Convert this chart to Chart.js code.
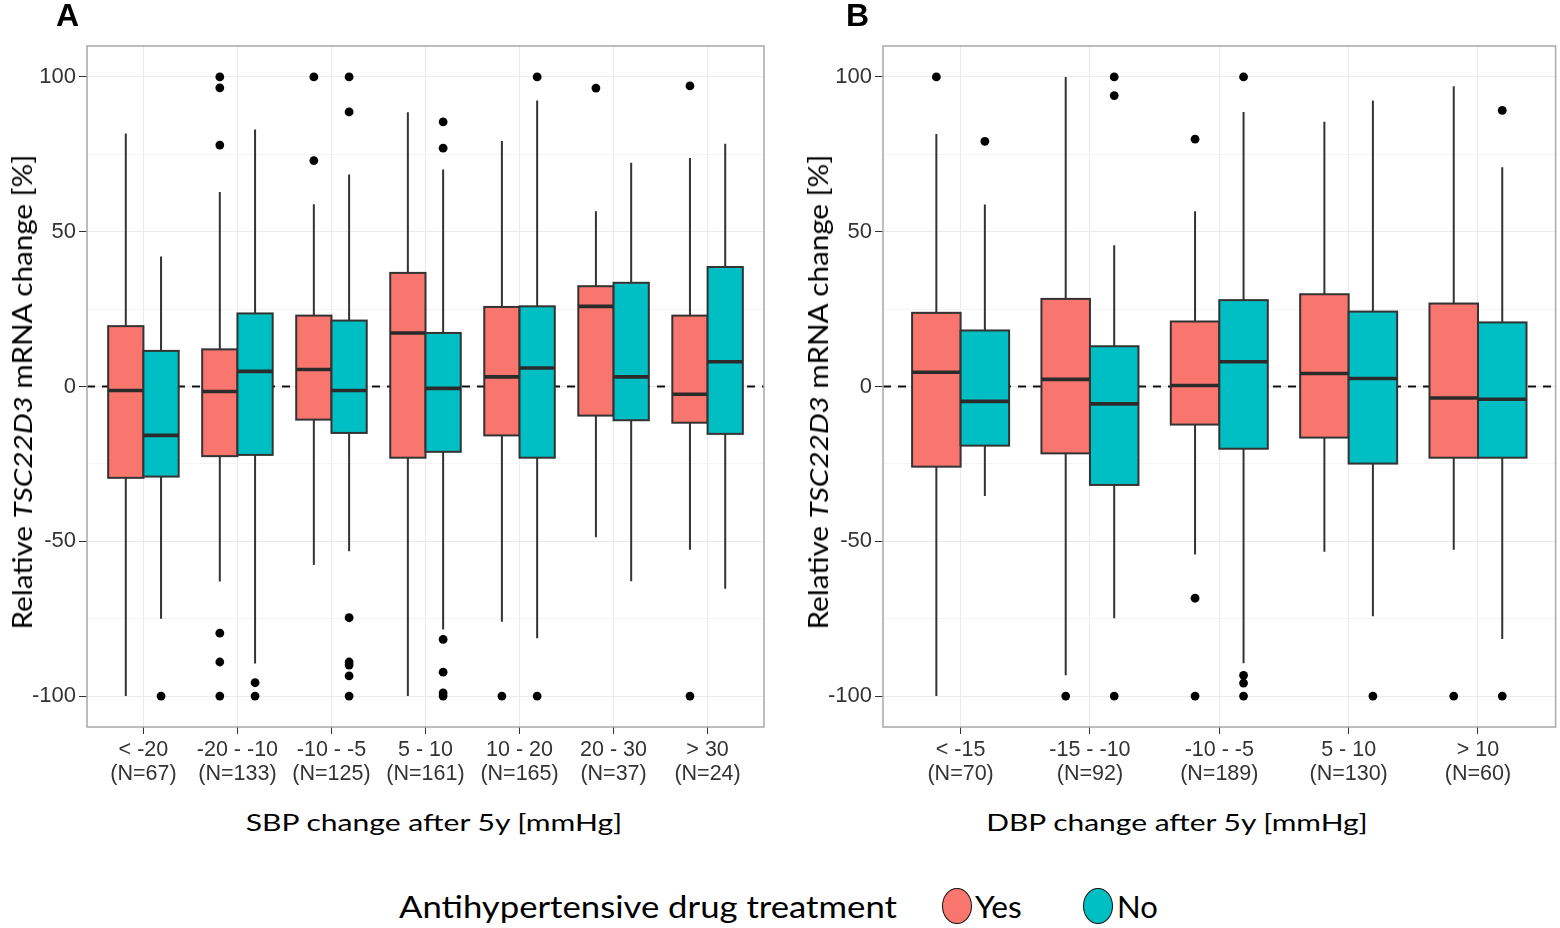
<!DOCTYPE html>
<html>
<head>
<meta charset="utf-8">
<title>TSC22D3 change by blood pressure change</title>
<script src="https://cdn.jsdelivr.net/npm/chart.js@4.4.1/dist/chart.umd.min.js"></script>
<style>
  body { margin: 0; background: #fff; width: 1560px; height: 928px; position: relative; overflow: hidden; font-family: Lato, "Open Sans", sans-serif; color: #000; }
  canvas { position: absolute; top: 0; }
  #chartA { left: 0; }
  #chartB { left: 790px; }
  .tag { position: absolute; top: -3px; font: bold 32px "Liberation Sans", Arial, sans-serif; }
  .lbl { position: absolute; white-space: nowrap; line-height: 1; }
  .ytitle { font-size: 26px; }
  .xtitle { font-size: 24px; }
  .legend { position: absolute; top: 888px; height: 36px; font-size: 31px; line-height: 36px; white-space: nowrap; }
  .dot { position: absolute; top: 888px; width: 28px; height: 34px; border: 1.5px solid #111; border-radius: 50%; }
</style>
</head>
<body>
<canvas id="chartA" width="780" height="800"></canvas>
<canvas id="chartB" width="770" height="800"></canvas>

<div class="tag" style="left:56px">A</div>
<div class="tag" style="left:846px">B</div>

<div class="lbl ytitle" data-w="475" data-cx="22" data-cy="392" data-rot="1">Relative <i>TSC22D3</i> mRNA change [%]</div>
<div class="lbl ytitle" data-w="475" data-cx="818" data-cy="392" data-rot="1">Relative <i>TSC22D3</i> mRNA change [%]</div>
<div class="lbl xtitle" data-w="376" data-cx="434" data-cy="822">SBP change after 5y [mmHg]</div>
<div class="lbl xtitle" data-w="382" data-cx="1177" data-cy="822">DBP change after 5y [mmHg]</div>

<div class="lbl legend" data-w="498" data-left="399">Antihypertensive drug treatment</div>
<div class="dot" style="left:942px; background:#F8766D"></div>
<div class="lbl legend" data-w="47" data-left="975">Yes</div>
<div class="dot" style="left:1083px; background:#00BFC4"></div>
<div class="lbl legend" data-w="41" data-left="1117">No</div>

<script>
// groups and counts
const sbpGroups = ['< -20', '-20 - -10', '-10 - -5', '5 - 10', '10 - 20', '20 - 30', '> 30'];
const sbpN = [67, 133, 125, 161, 165, 37, 24];
const dbpGroups = ['< -15', '-15 - -10', '-10 - -5', '5 - 10', '> 10'];
const dbpN = [70, 92, 189, 130, 60];

// box stats per group: [lower whisker, Q1, median, Q3, upper whisker]
const sbpYesBox = [
  [-100, -29.5, -1.3, 19.5, 81.7],
  [-63, -22.5, -1.6, 12, 62.8],
  [-57.7, -10.7, 5.5, 22.9, 58.9],
  [-100, -23, 17.3, 36.7, 88.6],
  [-76, -15.8, 3.1, 25.7, 79.3],
  [-48.7, -9.4, 25.9, 32.4, 56.6],
  [-52.7, -11.7, -2.5, 22.9, 73.8]
];
const sbpNoBox = [
  [-75, -29.1, -15.8, 11.5, 42],
  [-89.5, -22.1, 4.9, 23.6, 83],
  [-53.2, -15, -1.3, 21.3, 68.5],
  [-78.5, -21.1, -0.6, 17.3, 70.1],
  [-81.3, -23, 6, 25.9, 92.4],
  [-62.9, -10.9, 3.1, 33.5, 72.3],
  [-65.3, -15.3, 8, 38.6, 78.4]
];
const dbpYesBox = [
  [-100, -25.9, 4.6, 23.8, 81.6],
  [-93.3, -21.6, 2.3, 28.3, 100],
  [-54.3, -12.3, 0.3, 21, 56.6],
  [-53.4, -16.5, 4.2, 29.8, 85.5],
  [-52.7, -23, -3.7, 26.8, 97]
];
const dbpNoBox = [
  [-35.4, -19.1, -4.8, 18.1, 58.8],
  [-74.9, -31.8, -5.6, 13, 45.6],
  [-89.4, -20.1, 8, 27.9, 88.7],
  [-74.2, -24.9, 2.6, 24.2, 92.4],
  [-81.6, -23, -4.1, 20.7, 70.8]
];

// outliers per group
const sbpYesOut = [[], [100, 96.5, 78, -79.7, -89, -100], [100, 73], [], [-100], [96.4], [97.1, -100]];
const sbpNoOut = [[-100], [-95.7, -100], [100, 88.7, -74.7, -89, -90, -93.5, -100], [85.5, 77, -81.7, -92.3, -99, -100], [100, -100], [], []];
const dbpYesOut = [[100], [-100], [79.9, -68.4, -100], [], [-100]];
const dbpNoOut = [[79.2], [100, 94, -100], [100, -93.3, -95.8, -100], [-100], [89.2, -100]];

const yesColor = '#F8766D';
const noColor = '#00BFC4';
const boxW = 0.375;   // each box is half of the 0.75 dodge width

function outlierPoints(out, shift) {
  const pts = [];
  out.forEach((vals, i) => vals.forEach(v => pts.push({ x: i + 1 + shift, y: v })));
  return pts;
}

// whiskers, boxes, medians and the dashed zero line, drawn under the outlier points
function boxPlugin(series) {
  return {
    id: 'boxes',
    beforeDatasetsDraw(chart) {
      const { ctx, chartArea, scales: { x, y } } = chart;
      ctx.save();
      const y0 = y.getPixelForValue(0);
      ctx.strokeStyle = '#111';
      ctx.lineWidth = 2;
      ctx.setLineDash([8, 7]);
      ctx.beginPath();
      ctx.moveTo(chartArea.left, y0);
      ctx.lineTo(chartArea.right, y0);
      ctx.stroke();
      ctx.setLineDash([]);

      series.forEach(s => {
        s.stats.forEach((st, i) => {
          const c = i + 1 + s.shift;
          const xl = x.getPixelForValue(c - boxW / 2);
          const xr = x.getPixelForValue(c + boxW / 2);
          const xm = x.getPixelForValue(c);
          const [lo, q1, med, q3, hi] = st.map(v => y.getPixelForValue(v));
          ctx.strokeStyle = '#333';
          ctx.lineWidth = 2;
          ctx.beginPath();
          ctx.moveTo(xm, hi); ctx.lineTo(xm, q3);
          ctx.moveTo(xm, q1); ctx.lineTo(xm, lo);
          ctx.stroke();
          ctx.fillStyle = s.color;
          ctx.fillRect(xl, q3, xr - xl, q1 - q3);
          ctx.strokeRect(xl, q3, xr - xl, q1 - q3);
          ctx.strokeStyle = '#2b2b2b';
          ctx.lineWidth = 3.6;
          ctx.beginPath();
          ctx.moveTo(xl, med); ctx.lineTo(xr, med);
          ctx.stroke();
        });
      });
      ctx.restore();
    },
    afterDraw(chart) {
      const { ctx, chartArea: a } = chart;
      ctx.save();
      ctx.strokeStyle = '#a8a8a8';
      ctx.lineWidth = 1.5;
      ctx.strokeRect(a.left, a.top, a.right - a.left, a.bottom - a.top);
      ctx.restore();
    }
  };
}

function makeChart(id, groups, counts, yesBox, noBox, yesOut, noOut, axisW, padRight) {
  const n = groups.length;
  const yTicks = [-100, -75, -50, -25, 0, 25, 50, 75, 100];
  return new Chart(document.getElementById(id), {
    type: 'scatter',
    data: {
      datasets: [
        { data: outlierPoints(yesOut, -boxW / 2), backgroundColor: '#000', borderWidth: 0, pointRadius: 4.4 },
        { data: outlierPoints(noOut, boxW / 2), backgroundColor: '#000', borderWidth: 0, pointRadius: 4.4 }
      ]
    },
    options: {
      responsive: false,
      animation: false,
      layout: { padding: { top: 46, right: padRight, bottom: 0, left: 0 } },
      plugins: { legend: { display: false }, tooltip: { enabled: false } },
      scales: {
        x: {
          type: 'linear',
          min: 0.4,
          max: n + 0.6,
          afterBuildTicks: s => { s.ticks = groups.map((g, i) => ({ value: i + 1 })); },
          afterFit: s => { s.height = 73; },
          ticks: {
            autoSkip: false,
            maxRotation: 0,
            padding: 4,
            color: '#333',
            font: { family: '"Liberation Sans", Arial', size: 21.5, lineHeight: 1.12 },
            callback: v => [groups[v - 1], '(N=' + counts[v - 1] + ')']
          },
          grid: { color: '#ebebeb', lineWidth: 1, tickColor: '#333', tickLength: 7 },
          border: { display: false }
        },
        y: {
          min: -110,
          max: 110,
          afterBuildTicks: s => { s.ticks = yTicks.map(v => ({ value: v })); },
          afterFit: s => { s.width = axisW; },
          ticks: {
            padding: 3,
            color: '#333',
            font: { family: '"Liberation Sans", Arial', size: 22 },
            callback: v => (v % 50 === 0 ? String(v) : '')
          },
          grid: {
            color: c => (c.tick && c.tick.value % 50 === 0 ? '#ebebeb' : '#f4f4f4'),
            tickColor: c => (c.tick && c.tick.value % 50 === 0 ? '#333' : 'rgba(0,0,0,0)'),
            tickLength: 8
          },
          border: { display: false }
        }
      }
    },
    plugins: [boxPlugin([
      { stats: yesBox, shift: -boxW / 2, color: yesColor },
      { stats: noBox, shift: boxW / 2, color: noColor }
    ])]
  });
}

makeChart('chartA', sbpGroups, sbpN, sbpYesBox, sbpNoBox, sbpYesOut, sbpNoOut, 87, 16);
makeChart('chartB', dbpGroups, dbpN, dbpYesBox, dbpNoBox, dbpYesOut, dbpNoOut, 93, 2);

// place the html titles and stretch them to their widths
document.querySelectorAll('.lbl').forEach(el => {
  const k = el.dataset.w / el.offsetWidth;
  if (el.dataset.left) {
    el.style.left = el.dataset.left + 'px';
    el.style.transformOrigin = 'left center';
    el.style.transform = 'scaleX(' + k + ')';
    return;
  }
  el.style.left = el.dataset.cx + 'px';
  el.style.top = el.dataset.cy + 'px';
  const rot = el.dataset.rot ? ' rotate(-90deg)' : '';
  el.style.transform = 'translate(-50%, -50%)' + rot + ' scaleX(' + k + ')';
});
</script>
</body>
</html>
